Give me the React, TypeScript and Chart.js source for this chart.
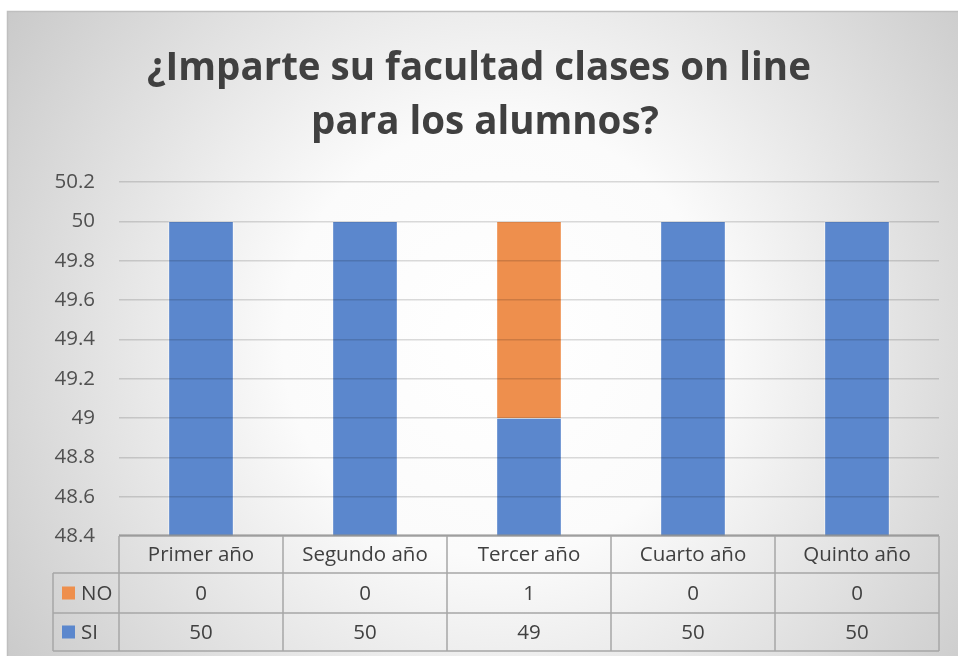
import React, { useEffect, useRef } from "react";
import { Chart, registerables } from "chart.js";

Chart.register(...registerables);

const titleLines = ["¿Imparte su facultad clases on line", "para los alumnos?"];
const categories = ["Primer año", "Segundo año", "Tercer año", "Cuarto año", "Quinto año"];
const seriesNames = ["NO", "SI"];
const noValues = [0, 0, 1, 0, 0];
const siValues = [50, 50, 49, 50, 50];
const yMin = 48.4;
const yMax = 50.2;
const yStep = 0.2;

const BLUE = "#5B87CD";
const ORANGE = "#EE8F4D";
const FONT = "'Open Sans', Lato, sans-serif";

const bgPlugin = {
  id: "bgPlugin",
  beforeDraw(chart: any) {
    const ctx = chart.ctx;
    const W = chart.width;
    const H = chart.height;
    ctx.save();
    ctx.fillStyle = "#ffffff";
    ctx.fillRect(0, 0, W, H);
    const g = ctx.createRadialGradient(500, 340, 0, 500, 340, 620);
    g.addColorStop(0, "#ffffff");
    g.addColorStop(0.35, "#fbfbfb");
    g.addColorStop(1, "#c6c6c6");
    ctx.fillStyle = g;
    ctx.fillRect(7, 11, W - 7, H - 11);
    ctx.strokeStyle = "#bfbfbf";
    ctx.lineWidth = 1.5;
    ctx.beginPath();
    ctx.moveTo(7.5, H);
    ctx.lineTo(7.5, 11.5);
    ctx.lineTo(W, 11.5);
    ctx.stroke();
    ctx.restore();
  },
};

const titlePlugin = {
  id: "titlePlugin",
  afterDraw(chart: any) {
    const ctx = chart.ctx;
    ctx.save();
    ctx.font = `bold 38.5px ${FONT}`;
    ctx.fillStyle = "#404040";
    ctx.textAlign = "center";
    ctx.textBaseline = "alphabetic";
    ctx.fillText(titleLines[0], 479, 80);
    ctx.fillText(titleLines[1], 485, 134);
    ctx.restore();
  },
};

const tablePlugin = {
  id: "tablePlugin",
  afterDraw(chart: any) {
    const ctx = chart.ctx;
    const area = chart.chartArea;
    const xs = chart.scales.x;
    const n = categories.length;
    const colW = (area.right - area.left) / n;
    const legendLeft = 53;
    const top = area.bottom;
    const r1 = top + 37;
    const r2 = r1 + 40;
    const r3 = r2 + 38;
    ctx.save();
    ctx.strokeStyle = "#a6a6a6";
    ctx.lineWidth = 1.5;
    ctx.beginPath();
    ctx.moveTo(area.left, top);
    ctx.lineTo(area.right, top);
    ctx.moveTo(legendLeft, r1);
    ctx.lineTo(area.right, r1);
    ctx.moveTo(legendLeft, r2);
    ctx.lineTo(area.right, r2);
    ctx.moveTo(legendLeft, r3);
    ctx.lineTo(area.right, r3);
    ctx.moveTo(legendLeft, r1);
    ctx.lineTo(legendLeft, r3);
    for (let i = 0; i <= n; i++) {
      const x = area.left + i * colW;
      ctx.moveTo(x, top);
      ctx.lineTo(x, r3);
    }
    ctx.stroke();
    ctx.strokeStyle = "#8c8c8c";
    ctx.lineWidth = 1;
    ctx.beginPath();
    ctx.moveTo(area.left, top - 1);
    ctx.lineTo(area.right, top - 1);
    ctx.stroke();

    ctx.font = `20.5px ${FONT}`;
    ctx.fillStyle = "#404040";
    ctx.textAlign = "center";
    ctx.textBaseline = "middle";
    const rows = [
      { name: seriesNames[0], vals: noValues, color: ORANGE, y: (r1 + r2) / 2 },
      { name: seriesNames[1], vals: siValues, color: BLUE, y: (r2 + r3) / 2 },
    ];
    categories.forEach((c, i) => {
      const cx = xs.getPixelForValue(i);
      ctx.fillText(c, cx, (top + r1) / 2 + 1);
      rows.forEach((r) => ctx.fillText(String(r.vals[i]), cx, r.y + 1));
    });
    ctx.textAlign = "left";
    rows.forEach((r) => {
      ctx.fillStyle = r.color;
      ctx.fillRect(62, r.y - 6.5, 13, 13);
      ctx.fillStyle = "#404040";
      ctx.fillText(r.name, 81, r.y + 1);
    });
    ctx.restore();
  },
};

export default function App() {
  const ref = useRef<HTMLCanvasElement>(null);
  useEffect(() => {
    document.body.style.margin = "0";
    const chart = new Chart(ref.current as HTMLCanvasElement, {
      type: "bar",
      data: {
        labels: categories,
        datasets: [
          {
            label: seriesNames[1],
            data: siValues,
            backgroundColor: BLUE,
            borderColor: "rgba(255,255,255,0.55)",
            borderWidth: 1,
            barThickness: 65,
          },
          {
            label: seriesNames[0],
            data: noValues,
            backgroundColor: ORANGE,
            borderColor: "rgba(255,255,255,0.55)",
            borderWidth: 1,
            barThickness: 65,
          },
        ],
      },
      options: {
        animation: false,
        responsive: false,
        maintainAspectRatio: false,
        layout: { padding: { top: 182, bottom: 120, left: 0, right: 19 } },
        plugins: {
          legend: { display: false },
          title: { display: false },
          tooltip: { enabled: false },
        },
        scales: {
          x: {
            stacked: true,
            display: false,
          },
          y: {
            stacked: true,
            min: yMin,
            max: yMax,
            border: { display: false },
            grid: { color: "rgba(0,0,0,0.14)", lineWidth: 1.5, drawTicks: false, z: 1 },
            ticks: {
              stepSize: yStep,
              padding: 24,
              color: "#505050",
              font: { family: FONT, size: 20.5 },
              callback: (v: any) => String(Number(Number(v).toFixed(1))),
            },
            afterFit: (s: any) => {
              s.width = 119;
            },
          },
        },
      },
      plugins: [bgPlugin, titlePlugin, tablePlugin],
    });
    return () => chart.destroy();
  }, []);
  return (
    <div style={{ position: "fixed", left: 0, top: 0, width: 958, height: 656 }}>
      <canvas ref={ref} width={958} height={656} style={{ display: "block" }} />
    </div>
  );
}
